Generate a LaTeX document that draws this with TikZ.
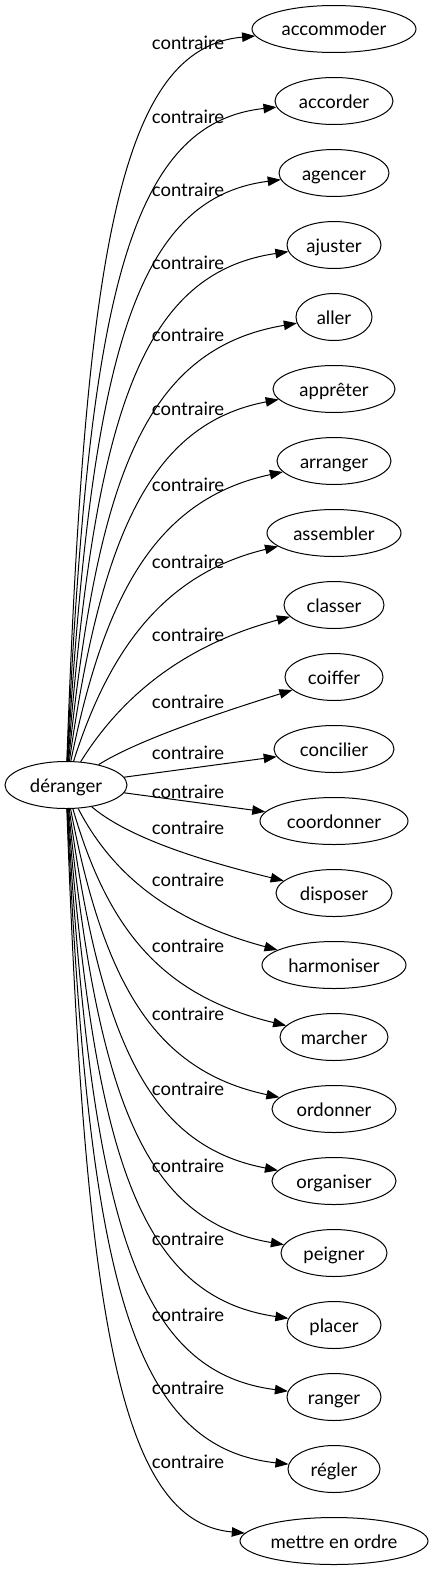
\documentclass[tikz,border=0pt]{standalone}
\usepackage{fontspec}
\setmainfont{Lato}
\usetikzlibrary{arrows.meta,shapes.geometric}
\begin{document}
\begin{tikzpicture}[x=1pt,y=-1pt,
  word/.style={draw, ellipse, minimum height=47pt, inner sep=0pt, line width=1pt,
    font=\fontsize{18.5}{20}\selectfont, text height=18pt, text depth=4pt},
  lab/.style={font=\fontsize{18.5}{20}\selectfont, anchor=base, inner sep=0pt},
  edge/.style={line width=1pt, -{Triangle[length=13pt,width=9.5pt]}}]
\useasboundingbox (0,0) rectangle (433,1571);
\node[word, minimum width=122pt] (d) at (66,785) {déranger};
% targets
\foreach \n/\t/\y/\rx in {
  accommoder/accommoder/29/82, accorder/accorder/101/59, agencer/agencer/173/55,
  ajuster/ajuster/245/47, aller/aller/317/38, appreter/apprêter/389/61,
  arranger/arranger/461/57, assembler/assembler/533/67, classer/classer/605/50,
  coiffer/coiffer/677/49, concilier/concilier/749/60, coordonner/coordonner/821/74,
  disposer/disposer/893/58, harmoniser/harmoniser/965/72, marcher/marcher/1037/54,
  ordonner/ordonner/1109/62, organiser/organiser/1181/62, peigner/peigner/1253/53,
  placer/placer/1325/47, ranger/ranger/1397/47, regler/régler/1469/46,
  mettre/mettre en ordre/1541/94}
  \node[word, minimum width=2*\rx pt] (\n) at (334,\y) {\t};
% labels
\foreach \ly in {43,117,190,263,335,409,485,562,635,702,753,792,828,880,946,1014,1089,1166,1239,1315,1388,1462}
  \node[lab] at (188,\ly+6) {contraire};
% upper curved edges
\foreach \n/\y/\w in {
  accommoder/29/0, accorder/101/0.125, agencer/173/0.25, ajuster/245/0.375,
  aller/317/0.5, appreter/389/0.625, arranger/461/0.75, assembler/533/0.875,
  classer/605/1}
  \draw[edge] (d) .. controls ({85+25*\w},{\y+221-111*\w}) and ({120+45*\w},{\y+19+26*\w}) .. (\n);
% lower curved edges
\foreach \n/\y/\w in {
  harmoniser/965/1, marcher/1037/0.875, ordonner/1109/0.75,
  organiser/1181/0.625, peigner/1253/0.5, placer/1325/0.375,
  ranger/1397/0.25, regler/1469/0.125, mettre/1541/0}
  \draw[edge] (d) .. controls ({85+25*\w},{\y-221+126*\w}) and ({120+45*\w},{\y-19-26*\w}) .. (\n);
\draw[edge] (d) .. controls (130,745) and (190,722) .. (coiffer);
\draw[edge] (d) -- (concilier);
\draw[edge] (d) -- (coordonner);
\draw[edge] (d) .. controls (125,835) and (190,858) .. (disposer);
\end{tikzpicture}
\end{document}
